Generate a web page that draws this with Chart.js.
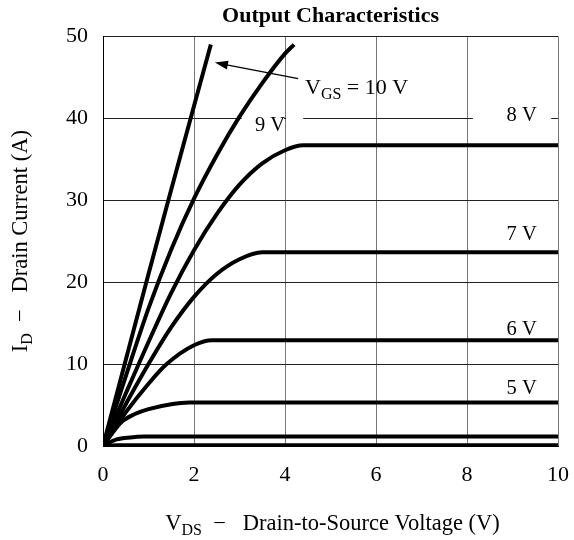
<!DOCTYPE html>
<html>
<head>
<meta charset="utf-8">
<script src="https://cdn.jsdelivr.net/npm/chart.js@4/dist/chart.umd.min.js"></script>
<style>
  html, body { margin: 0; padding: 0; background: #fff; }
  #caja { width: 574px; height: 540px; }
</style>
</head>
<body>
<div id="caja"><canvas id="grafico"></canvas></div>
<script>
// curvas ID vs VDS para cada VGS
const gateLabels = ["10 V", "9 V", "8 V", "7 V", "6 V", "5 V", "4 V", "3 V"];
const vds10 = [0, 0.5, 1, 1.5, 2, 2.37];
const id10  = [0, 10.5, 21, 31.3, 41.5, 49];
const vds9 = [0, 0.5, 1, 1.5, 2, 2.5, 3, 3.5, 4, 4.2];
const id9  = [0, 8.5, 16.8, 24, 30.2, 35.5, 40.2, 44.3, 47.9, 49];
const vds8 = [0, 0.5, 1, 1.5, 2, 2.5, 3, 3.5, 4, 4.4, 10];
const id8  = [0, 6.4, 12.7, 18.7, 23.9, 28.3, 31.9, 34.5, 36.1, 36.7, 36.7];
const vds7 = [0, 0.5, 1, 1.5, 2, 2.5, 3, 3.5, 10];
const id7  = [0, 5.1, 10, 14.5, 18.2, 21, 22.8, 23.65, 23.65];
const vds6 = [0, 0.5, 1, 1.4, 2, 2.4, 10];
const id6  = [0, 4.1, 7.6, 10, 12.3, 12.9, 12.9];
const vds5 = [0, 0.4, 0.7, 1, 1.5, 1.9, 10];
const id5  = [0, 2.9, 3.9, 4.5, 5.1, 5.3, 5.3];
const vds4 = [0, 0.3, 0.6, 0.9, 10];
const id4  = [0, 0.8, 1.05, 1.15, 1.15];
const vds3 = [0, 0.3, 10];
const id3  = [0, 0.1, 0.1];

const xTicks = [0, 2, 4, 6, 8, 10];
const yTicks = [0, 10, 20, 30, 40, 50];

const curvas = [
  [vds10, id10], [vds9, id9], [vds8, id8], [vds7, id7],
  [vds6, id6], [vds5, id5], [vds4, id4], [vds3, id3]
];

const FUENTE = "'Liberation Serif', 'DejaVu Serif', serif";

function textoConSub(ctx, partes, x, y, size, centrado) {
  // partes: [texto, esSubindice]
  const anchos = partes.map(p => {
    ctx.font = (p[1] ? Math.round(size * 0.72) : size) + "px " + FUENTE;
    return ctx.measureText(p[0]).width;
  });
  let cx = centrado ? x - anchos.reduce((a, b) => a + b, 0) / 2 : x;
  partes.forEach((p, i) => {
    ctx.font = (p[1] ? Math.round(size * 0.72) : size) + "px " + FUENTE;
    ctx.fillText(p[0], cx, p[1] ? y + size * 0.22 : y);
    cx += anchos[i];
  });
}

const etiquetas = {
  id: "etiquetas",
  beforeDatasetsDraw(chart) {
    const { ctx, scales: { x, y } } = chart;
    ctx.save();
    ctx.fillStyle = "#fff";
    // huecos en la rejilla detras de las etiquetas
    const y40 = y.getPixelForValue(40);
    const x4 = x.getPixelForValue(4);
    const a = x.getPixelForValue(3.05), b = x.getPixelForValue(4.4);
    ctx.fillRect(a, y40 - 2, x4 - 1 - a, 4);
    ctx.fillRect(x4 + 1, y40 - 2, b - x4 - 1, 4);
    const c = x.getPixelForValue(8.13), d = x.getPixelForValue(9.85);
    ctx.fillRect(c, y40 - 2, d - c, 4);
    ctx.restore();
  },
  afterDraw(chart) {
    const { ctx, scales: { x, y }, chartArea } = chart;
    ctx.save();
    ctx.fillStyle = "#000";
    ctx.textBaseline = "alphabetic";

    // etiquetas de VGS
    ctx.font = "20.5px " + FUENTE;
    ctx.textAlign = "center";
    ctx.fillText("9 V", x.getPixelForValue(3.67), y.getPixelForValue(38.4));
    ctx.fillText("8 V", x.getPixelForValue(9.2), y.getPixelForValue(39.7));
    ctx.fillText("7 V", x.getPixelForValue(9.2), y.getPixelForValue(25.2));
    ctx.fillText("6 V", x.getPixelForValue(9.2), y.getPixelForValue(13.6));
    ctx.fillText("5 V", x.getPixelForValue(9.2), y.getPixelForValue(6.4));

    ctx.textAlign = "left";
    textoConSub(ctx, [["V", false], ["GS", true], [" = 10 V", false]],
      x.getPixelForValue(4.44), y.getPixelForValue(43), 22, false);

    // flecha hacia la curva de 10 V
    const x0 = x.getPixelForValue(4.29), y0 = y.getPixelForValue(44.85);
    const x1 = x.getPixelForValue(2.46), y1 = y.getPixelForValue(46.8);
    const ang = Math.atan2(y1 - y0, x1 - x0);
    ctx.strokeStyle = "#000";
    ctx.lineWidth = 1.4;
    ctx.beginPath();
    ctx.moveTo(x0, y0);
    ctx.lineTo(x1 - 8 * Math.cos(ang), y1 - 8 * Math.sin(ang));
    ctx.stroke();
    ctx.beginPath();
    ctx.moveTo(x1, y1);
    ctx.lineTo(x1 - 13 * Math.cos(ang) + 4.5 * Math.sin(ang), y1 - 13 * Math.sin(ang) - 4.5 * Math.cos(ang));
    ctx.lineTo(x1 - 13 * Math.cos(ang) - 4.5 * Math.sin(ang), y1 - 13 * Math.sin(ang) + 4.5 * Math.cos(ang));
    ctx.closePath();
    ctx.fill();

    // titulos de ejes
    const cxArea = (chartArea.left + chartArea.right) / 2;
    textoConSub(ctx, [["V", false], ["DS", true], ["  \u2212   Drain-to-Source Voltage (V)", false]],
      cxArea + 2, 530, 22.5, true);

    ctx.translate(27, (chartArea.top + chartArea.bottom) / 2);
    ctx.rotate(-Math.PI / 2);
    textoConSub(ctx, [["I", false], ["D", true], ["  \u2212   Drain Current (A)", false]],
      0, 0, 22.5, true);
    ctx.restore();
  }
};

const ctx = document.getElementById("grafico").getContext("2d");

new Chart(ctx, {
  type: "line",
  data: {
    datasets: curvas.map((c, i) => ({
      label: gateLabels[i],
      data: c[0].map((v, j) => ({ x: v, y: c[1][j] })),
      borderColor: "#000",
      borderWidth: 4,
      pointRadius: 0,
      fill: false,
      cubicInterpolationMode: "monotone"
    }))
  },
  options: {
    responsive: true,
    maintainAspectRatio: false,
    animation: false,
    layout: { padding: { left: 0, right: 16, top: 0, bottom: 0 } },
    plugins: {
      legend: { display: false },
      tooltip: { enabled: false },
      title: {
        display: true,
        text: "Output Characteristics",
        fullSize: false,
        color: "#000",
        font: { family: FUENTE, size: 22, weight: "bold" },
        padding: { top: 3, bottom: 7 }
      }
    },
    scales: {
      x: {
        type: "linear",
        min: 0,
        max: 10,
        afterBuildTicks: s => { s.ticks = xTicks.map(v => ({ value: v })); },
        afterFit: s => { s.height = 94; s.paddingRight = 0; s.paddingLeft = 0; },
        grid: { color: "#777", lineWidth: 1, drawTicks: false },
        border: { color: "#000", width: 1 },
        ticks: { color: "#000", padding: 16, font: { family: FUENTE, size: 22 } }
      },
      y: {
        type: "linear",
        min: 0,
        max: 50,
        afterBuildTicks: s => { s.ticks = yTicks.map(v => ({ value: v })); },
        afterFit: s => { s.width = 103; },
        grid: { color: "#222", lineWidth: 1, drawTicks: false },
        border: { color: "#000", width: 1 },
        ticks: { color: "#000", padding: 15, font: { family: FUENTE, size: 22 } }
      }
    }
  },
  plugins: [etiquetas]
});
</script>
</body>
</html>
